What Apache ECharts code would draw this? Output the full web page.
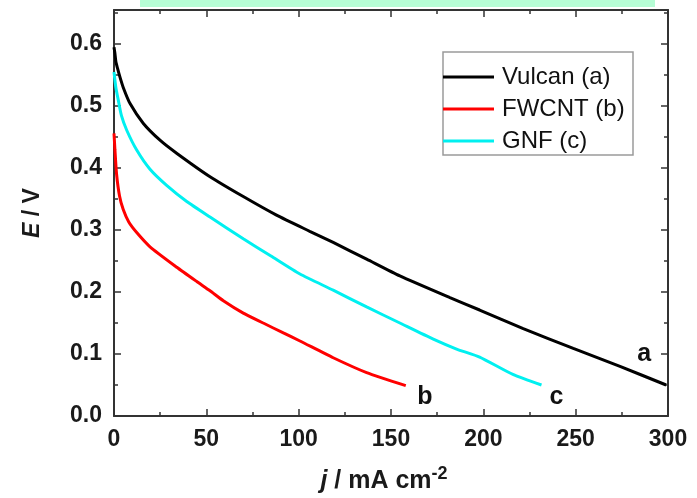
<!DOCTYPE html>
<html>
<head>
<meta charset="utf-8">
<script src="https://cdn.jsdelivr.net/npm/echarts@6/dist/echarts.min.js"></script>
<style>
html,body{margin:0;padding:0;background:#fff;}
#chart{width:697px;height:498px;}
</style>
</head>
<body>
<div id="chart"></div>
<script>
// Data
const seriesNames = ['Vulcan (a)', 'FWCNT (b)', 'GNF (c)'];
const curveTags = ['a', 'b', 'c'];

const vulcanJ = [0, 0.5, 1, 2, 3.2, 5, 8.7, 15.9, 24.9, 33.9, 52, 70, 88, 106, 118.7, 136.8, 154.8, 181.9, 198, 221.6, 248.7, 274, 299];
const vulcanE = [0.595, 0.585, 0.572, 0.56, 0.547, 0.53, 0.504, 0.472, 0.445, 0.424, 0.386, 0.354, 0.324, 0.298, 0.280, 0.253, 0.226, 0.191, 0.171, 0.141, 0.109, 0.080, 0.05];

const fwcntJ = [0, 0.5, 1.4, 3, 5, 8, 12.3, 19.5, 34, 44.8, 52, 59.2, 70, 80.8, 91.7, 100.7, 118.7, 136.8, 158];
const fwcntE = [0.456, 0.43, 0.39, 0.355, 0.333, 0.313, 0.296, 0.273, 0.240, 0.217, 0.202, 0.186, 0.166, 0.150, 0.134, 0.121, 0.094, 0.070, 0.049];

const gnfJ = [0, 1, 2.3, 4, 6.9, 12.3, 19.5, 28.5, 39.4, 52, 70, 85, 100.7, 118.7, 136.8, 154.8, 172.9, 185.5, 198, 216, 231.5];
const gnfE = [0.555, 0.53, 0.51, 0.485, 0.461, 0.429, 0.398, 0.372, 0.346, 0.321, 0.286, 0.258, 0.229, 0.203, 0.176, 0.15, 0.124, 0.108, 0.095, 0.067, 0.05];

const xTicks = [0, 50, 100, 150, 200, 250, 300];
const yTicks = [0.0, 0.1, 0.2, 0.3, 0.4, 0.5, 0.6];

const colors = ['#000000', '#ff0000', '#00f0f0'];
const tagOffsets = [[-22, -31], [19, 11], [15, 12]];

function pairs(xs, ys) { return xs.map((x, i) => [x, ys[i]]); }
const allJ = [vulcanJ, fwcntJ, gnfJ];
const allE = [vulcanE, fwcntE, gnfE];

const FONT = 'Liberation Sans, Arial, sans-serif';
const axisColor = '#333';
const tickFont = { fontFamily: FONT, fontWeight: 'bold', fontSize: 23, color: '#1a1a1a' };

function xAxisCfg(pos, showLabels) {
  return {
    type: 'value', position: pos, min: xTicks[0], max: xTicks[xTicks.length - 1], interval: xTicks[1] - xTicks[0],
    axisLine: { show: true, onZero: false, lineStyle: { color: axisColor, width: 2 } },
    axisTick: { show: true, inside: true, length: 7, lineStyle: { color: axisColor, width: 1.5 } },
    minorTick: { show: true, splitNumber: 2, length: 4, lineStyle: { color: axisColor, width: 1.5 } },
    splitLine: { show: false },
    axisLabel: Object.assign({ show: showLabels, margin: 12 }, tickFont),
    name: showLabels ? '{i|j} / mA cm{s|-2}' : '',
    nameLocation: 'middle', nameGap: 49,
    nameTextStyle: {
      fontFamily: FONT, fontWeight: 'bold', fontSize: 25, color: '#1a1a1a', padding: [0, 14, 0, 0],
      rich: {
        i: { fontStyle: 'italic', fontWeight: 'bold', fontSize: 25, fontFamily: FONT, color: '#1a1a1a' },
        s: { fontWeight: 'bold', fontSize: 18, fontFamily: FONT, color: '#1a1a1a', verticalAlign: 'top', padding: [0, 0, 15, 0] }
      }
    }
  };
}
function yAxisCfg(pos, showLabels) {
  return {
    type: 'value', position: pos, min: yTicks[0], max: 0.655, interval: 0.1,
    axisLine: { show: true, onZero: false, lineStyle: { color: axisColor, width: 2 } },
    axisTick: { show: true, inside: true, length: 7, lineStyle: { color: axisColor, width: 1.5 } },
    minorTick: { show: true, splitNumber: 2, length: 4, lineStyle: { color: axisColor, width: 1.5 } },
    splitLine: { show: false },
    axisLabel: Object.assign({ show: showLabels, margin: 12, showMaxLabel: false, formatter: v => v.toFixed(1) }, tickFont),
    name: showLabels ? '{i|E} / V' : '',
    nameLocation: 'middle', nameGap: 70, nameRotate: 90,
    nameTextStyle: {
      fontFamily: FONT, fontWeight: 'bold', fontSize: 23, color: '#1a1a1a',
      rich: { i: { fontStyle: 'italic', fontWeight: 'bold', fontSize: 23, fontFamily: FONT, color: '#1a1a1a' } }
    }
  };
}

const chart = echarts.init(document.getElementById('chart'), null, { renderer: 'canvas' });
chart.setOption({
  animation: false,
  backgroundColor: '#ffffff',
  grid: { left: 114, right: 29, top: 10, bottom: 82, containLabel: false, outerBoundsMode: 'none' },
  xAxis: [xAxisCfg('bottom', true), xAxisCfg('top', false)],
  yAxis: [yAxisCfg('left', true), yAxisCfg('right', false)],
  legend: {
    orient: 'vertical', left: 443, top: 61, icon: 'rect', itemWidth: 51, itemHeight: 3, itemGap: 0, padding: 0,
    textStyle: { fontFamily: FONT, fontSize: 24, color: '#111', lineHeight: 32, height: 32, padding: [0, 0, 0, 3] },
    data: seriesNames
  },
  graphic: [
    { type: 'rect', shape: { x: 140, y: 0, width: 515, height: 7 }, style: { fill: '#b6fdd5' }, silent: true },
    { type: 'rect', shape: { x: 443, y: 52, width: 190, height: 103 }, style: { fill: 'none', stroke: '#9a9a9a', lineWidth: 1.5 }, silent: true }
  ],
  series: seriesNames.map((name, k) => ({
    name: name, type: 'line', xAxisIndex: 0, yAxisIndex: 0,
    data: pairs(allJ[k], allE[k]),
    showSymbol: false, symbol: 'none', smooth: 0.2,
    lineStyle: { color: colors[k], width: 3 },
    itemStyle: { color: colors[k] },
    markPoint: {
      symbol: 'circle', symbolSize: 0,
      label: { show: true, position: 'inside', offset: tagOffsets[k], formatter: curveTags[k], fontFamily: FONT, fontWeight: 'bold', fontSize: 25, color: '#111' },
      data: [{ coord: [allJ[k][allJ[k].length - 1], allE[k][allE[k].length - 1]] }]
    }
  }))
});
</script>
</body>
</html>
